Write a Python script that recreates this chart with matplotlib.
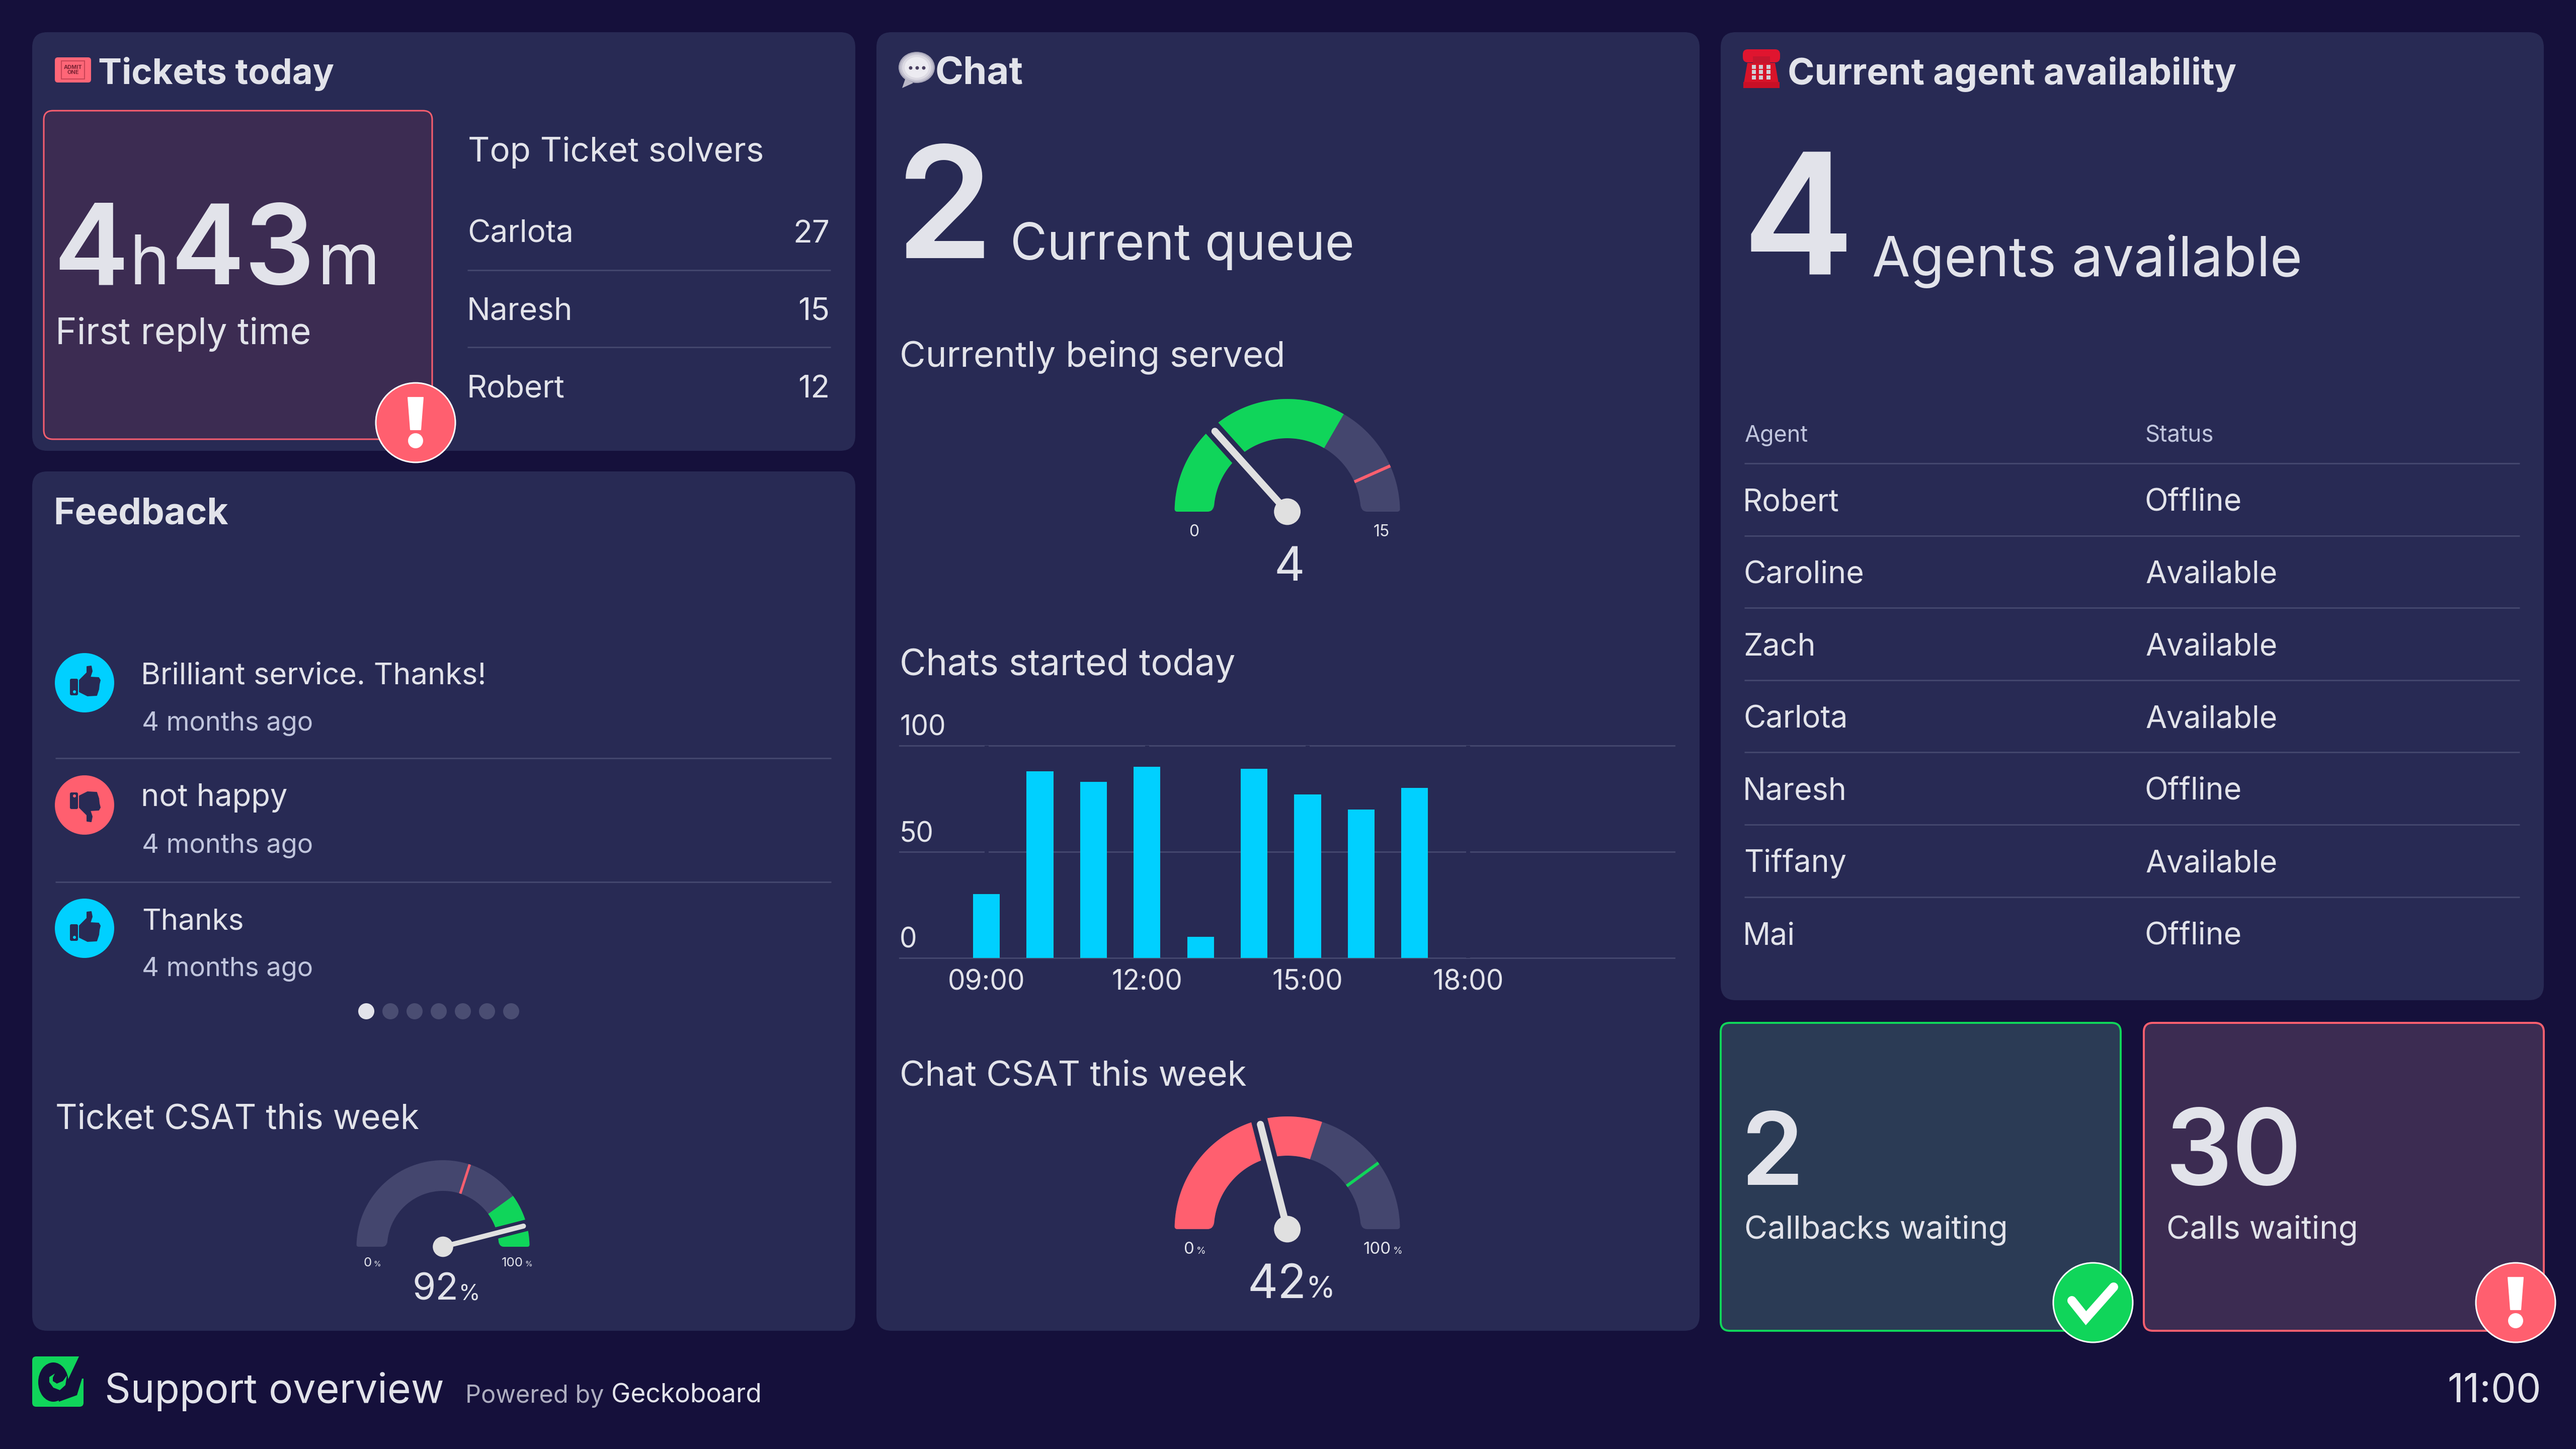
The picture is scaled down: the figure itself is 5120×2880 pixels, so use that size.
import math
import matplotlib
matplotlib.use("Agg")
import matplotlib.pyplot as plt
from matplotlib.font_manager import FontProperties
from matplotlib.patches import Circle, Ellipse, FancyBboxPatch, PathPatch, Polygon, Rectangle
from matplotlib.path import Path
from matplotlib.textpath import TextPath

# data
solver_names = ["Carlota", "Naresh", "Robert"]
solver_counts = [27, 15, 12]
comments = ["Brilliant service. Thanks!", "not happy", "Thanks"]
comment_good = [True, False, True]
comment_age = "4 months ago"
hours = [9, 10, 11, 12, 13, 14, 15, 16, 17]
chats = [30, 88, 83, 90, 10, 89, 77, 70, 80]
hour_ticks = [9, 12, 15, 18]
hour_labels = ["09:00", "12:00", "15:00", "18:00"]
count_ticks = [0, 50, 100]
agents = ["Robert", "Caroline", "Zach", "Carlota", "Naresh", "Tiffany", "Mai"]
statuses = ["Offline", "Available", "Available", "Available", "Offline", "Available", "Offline"]

# gauges : value, target, max
served = [4, 13, 15]
chat_csat = [42, 80, 100]
ticket_csat = [92, 60, 100]

# colours
BG = "#15103b"
PANEL = "#282a54"
TXT = "#e2e3ea"
SUB = "#c0c5dd"
LINE = "#43466d"
TRACK = "#44466e"
RED = "#ff5f6f"
GREEN = "#10d55a"
CYAN = "#00d0ff"
HUB = "#e0e0e0"
FONT = "Inter"
PX = 72 / 400  # font size in pt for 1 px

fig = plt.figure(figsize=(12.8, 7.2), dpi=400, facecolor=BG)
ax = fig.add_axes([0, 0, 1, 1])
ax.set_xlim(0, 5120)
ax.set_ylim(2880, 0)
ax.axis("off")


def t(x, y, s, em=None, w=None, color=TXT, weight="normal", ha="left", zorder=5):
    fp = FontProperties(family=FONT, weight=weight)
    ext = TextPath((0, 0), s, size=100, prop=fp).get_extents()
    if w is not None:
        em = 100 * w / ext.width
    # x is where the ink starts, not the side bearing
    if ha == "left":
        x -= ext.x0 * em / 100
        if weight == "normal":
            x += 2
    ax.text(x, y, s, fontproperties=fp, fontsize=em * PX, color=color, ha=ha, va="baseline", zorder=zorder)


def box(x0, y0, x1, y1, face, edge="none", lw=0, r=30):
    ax.add_patch(FancyBboxPatch((x0 + r, y0 + r), x1 - x0 - 2 * r, y1 - y0 - 2 * r,
                                boxstyle=f"round,pad={r},rounding_size={r}",
                                fc=face, ec=edge, lw=lw * PX, zorder=1))


def hline(x0, x1, y, color=LINE, lw=3):
    ax.plot([x0, x1], [y, y], color=color, lw=lw * PX, solid_capstyle="butt", zorder=2)


def badge_warn(cx, cy):
    ax.add_patch(Circle((cx, cy), 79, fc=RED, ec="white", lw=3 * PX, zorder=6))
    ax.add_patch(Polygon([(cx - 15, cy - 50), (cx + 15, cy - 50), (cx + 10, cy + 14), (cx - 10, cy + 14)],
                         fc="white", ec="white", lw=2 * PX, joinstyle="round", zorder=7))
    ax.add_patch(Circle((cx, cy + 36), 15, fc="white", ec="none", zorder=7))


def badge_ok(cx, cy):
    ax.add_patch(Circle((cx, cy), 79, fc=GREEN, ec="white", lw=3 * PX, zorder=6))
    ax.plot([cx - 42, cx - 14, cx + 41], [cy - 4, cy + 31, cy - 31], color="white", lw=18 * PX,
            solid_capstyle="round", solid_joinstyle="miter", zorder=7)


def gauge(cx, cy, ro, ri, vals, fill, mark, needle_w, gap_w, tick_w):
    val, target, top = vals
    c1, c2 = ro * 0.025, ri * 0.09
    verts, codes = [], []
    n = 160
    for i in range(n + 1):
        a = math.pi * (1 - i / n)
        y = cy - ro * math.sin(a)
        if i == n:
            y = cy - c1
        verts.append((cx + ro * math.cos(a), y if i else cy - c1))
        codes.append(Path.LINETO if i else Path.MOVETO)
    verts += [(cx + ro, cy), (cx + ro - c1, cy), (cx + ri + c2, cy), (cx + ri + 1, cy), (cx + ri, cy - c2)]
    codes += [Path.CURVE3, Path.CURVE3, Path.LINETO, Path.CURVE3, Path.CURVE3]
    for i in range(1, n):
        a = math.pi * i / n
        verts.append((cx + ri * math.cos(a), cy - ri * math.sin(a)))
        codes.append(Path.LINETO)
    verts += [(cx - ri, cy - c2), (cx - ri - 1, cy), (cx - ri - c2, cy), (cx - ro + c1, cy), (cx - ro, cy), (cx - ro, cy - c1)]
    codes += [Path.LINETO, Path.CURVE3, Path.CURVE3, Path.LINETO, Path.CURVE3, Path.CURVE3]
    shape = Path(verts, codes)
    ax.add_patch(PathPatch(shape, fc=TRACK, ec="none", zorder=2))

    # coloured part of the ring, the same shape clipped to a sector
    colour, f0, f1 = fill
    f0 = -0.02 if f0 == 0 else f0
    f1 = 1.02 if f1 == 1 else f1
    sector = [(cx, cy)]
    for i in range(61):
        f = f0 + (f1 - f0) * i / 60
        a = math.pi * (1 - f)
        sector.append((cx + ro * 1.2 * math.cos(a), cy - ro * 1.2 * math.sin(a)))
    clip = Polygon(sector, closed=True, transform=ax.transData)
    part = PathPatch(shape, fc=colour, ec="none", zorder=3)
    ax.add_patch(part)
    part.set_clip_path(clip)

    # target mark
    a = math.pi * (1 - target / top)
    ax.plot([cx + ri * math.cos(a), cx + ro * math.cos(a)], [cy - ri * math.sin(a), cy - ro * math.sin(a)],
            color=mark, lw=tick_w * PX, solid_capstyle="butt", zorder=4)

    # needle with a gap in the ring around it
    a = math.pi * (1 - val / top)
    ax.plot([cx, cx + (ro + 6) * math.cos(a)], [cy, cy - (ro + 6) * math.sin(a)], color=PANEL,
            lw=gap_w * PX, solid_capstyle="butt", zorder=4.5)
    nl = ro * 0.96
    ax.plot([cx, cx + nl * math.cos(a)], [cy, cy - nl * math.sin(a)], color=HUB,
            lw=needle_w * PX, solid_capstyle="round", zorder=5)
    ax.add_patch(Circle((cx, cy), ro * 0.118, fc=HUB, ec="none", zorder=5))


# panels
box(64, 64, 1700, 896, PANEL)
box(64, 937, 1700, 2645, PANEL)
box(1742, 64, 3378, 2645, PANEL)
box(3420, 64, 5056, 1988, PANEL)
box(87, 220, 859, 873, "#3c2c52", RED, 3, r=18)
box(3420, 2033, 4215, 2645, "#2b3b55", GREEN, 4, r=18)
box(4261, 2033, 5056, 2645, "#3c2c52", RED, 4, r=18)

# tickets
ax.add_patch(FancyBboxPatch((115, 120), 60, 38, boxstyle="round,pad=6,rounding_size=6", fc="#ff6677", ec="none", zorder=3))
ax.add_patch(Rectangle((122, 121), 46, 36, fc="none", ec="#c94456", lw=2 * PX, zorder=4))
ax.text(145, 139, "ADMIT\nONE", fontsize=11 * PX, color="#7a2233", ha="center", va="center", family=FONT,
        weight="bold", linespacing=1.0, zorder=5)
t(198, 167, "Tickets today", w=466, weight="bold")
t(118, 565, "4", em=225, weight="semibold")
t(266, 565, "h", em=135)
t(351, 565, "43", w=264, weight="semibold")
t(640, 565, "m", w=103)
t(114, 684, "First reply time", w=499)
badge_warn(826, 840)
t(931, 321, "Top Ticket solvers", w=582)
solver_y = [482, 635, 790]
for name, n, y in zip(solver_names, solver_counts, solver_y):
    t(931, y, name, em=62)
    t(1649, y, str(n), em=62, ha="right")
hline(929, 1651, 537)
hline(929, 1651, 690)

# feedback
t(111, 1042, "Feedback", w=343, weight="bold")
row_y = [1357, 1600, 1845]
row_w = [676, 285, 197]
hand = [(-10, -5), (5, -20), (5, -32), (13, -33), (15, -23), (11, -11), (28, -10), (31, -5), (29, 3),
        (28, 13), (24, 25), (6, 26), (-10, 18)]
for y, text, good, tw in zip(row_y, comments, comment_good, row_w):
    col = CYAN if good else RED
    sign = 1 if good else -1
    ax.add_patch(Circle((168, y), 59, fc=col, ec="none", zorder=3))
    ax.add_patch(Polygon([(168 + hx, y + sign * hy) for hx, hy in hand], fc=PANEL, ec=PANEL, lw=2 * PX,
                         joinstyle="round", zorder=4))
    ax.add_patch(FancyBboxPatch((139, y - 8 if good else y - 25), 16, 33, boxstyle="round,pad=0,rounding_size=3",
                                fc=PANEL, ec="none", zorder=4))
    ax.add_patch(Circle((148, y + sign * 18), 3, fc=col, ec="none", zorder=5))
    t(283, y + 2, text, w=tw)
    t(283, y + 95, comment_age, w=335, color=SUB)
hline(110, 1652, 1507)
hline(110, 1652, 1753)
for i in range(7):
    ax.add_patch(Circle((728 + 48 * i, 2010), 16, fc=TXT if i == 0 else "#4a4d72", ec="none", zorder=3))

t(111, 2244, "Ticket CSAT this week", w=719)
gauge(880.5, 2478, 172, 111, ticket_csat, (GREEN, 0.8, 1), RED, 10, 23, 5)
t(722, 2517, "0", em=26)
t(742, 2517, "%", em=15)
t(996, 2517, "100", em=26)
t(1043, 2517, "%", em=15)
t(822, 2584, "92", w=82)
t(914, 2584, "%", w=33)

# chat
for r, c in zip([36, 33, 29, 24], ["#a9a7ba", "#c6c4d2", "#dcdae3", "#ecebf1"]):
    ax.add_patch(Ellipse((1822, 134), 2 * r, 2 * r * 0.86, fc=c, ec="none", zorder=3))
ax.add_patch(Polygon([(1800, 155), (1793, 175), (1815, 165)], fc="#b9b7c6", ec="none", zorder=3))
for dx in [1810, 1823, 1836]:
    ax.add_patch(Circle((dx, 135), 3.5, fc="#4a4060", ec="none", zorder=4))
t(1862, 168, "Chat", w=170, weight="bold")
t(1800, 513, "2", em=310, weight="semibold")
t(2012, 516, "Current queue", w=673)
t(1790, 728, "Currently being served", w=757)
gauge(2558.6, 1017, 224, 146, served, (GREEN, 0, 0.667), RED, 14, 33, 6)
t(2373.5, 1066, "0", em=32, ha="center")
t(2746, 1066, "15", em=32, ha="center")
t(2563, 1154, str(served[0]), em=94, ha="center")

t(1790, 1342, "Chats started today", w=662)

# bar chart through its own axes
x_left, x_right, y_top, y_bot = 1788, 3328, 1482, 1904
bar_ax = fig.add_axes([x_left / 5120, 1 - y_bot / 2880, (x_right - x_left) / 5120, (y_bot - y_top) / 2880])
bar_ax.patch.set_alpha(0)
bar_ax.set_xlim(9 - 172.5 / 106.4, 9 + (3328 - 1960.5) / 106.4)
bar_ax.set_ylim(0, 100)
bar_ax.bar(hours, chats, width=0.5, color=CYAN, zorder=3)
bar_ax.set_yticks(count_ticks)
bar_ax.set_yticklabels([])
bar_ax.grid(axis="y", color=LINE, lw=3 * PX, zorder=1)
bar_ax.set_axisbelow(True)
for gl in bar_ax.get_ygridlines():
    gl.set_clip_on(False)
for h in hour_ticks:
    bar_ax.axvline(h, color=PANEL, lw=8 * PX, zorder=2)
bar_ax.set_xticks(hour_ticks)
bar_ax.set_xticklabels(hour_labels, fontfamily=FONT, fontsize=55 * PX, color=TXT, va="baseline")
bar_ax.tick_params(axis="x", length=0, pad=63 * PX)
bar_ax.tick_params(axis="y", length=0)
for spine in bar_ax.spines.values():
    spine.set_visible(False)
for v in count_ticks:
    bar_ax.annotate(str(v), xy=(0, v), xycoords=("axes fraction", "data"), xytext=(0, 20 * PX),
                    textcoords="offset points", fontfamily=FONT, fontsize=55 * PX, color=TXT, ha="left", va="baseline")

t(1790, 2158, "Chat CSAT this week", w=685)
gauge(2558.6, 2443, 224, 146, chat_csat, (RED, 0, 0.6), GREEN, 14, 33, 6)
t(2353, 2492, "0", em=33)
t(2378, 2492, "%", em=19)
t(2709, 2492, "100", em=33)
t(2769, 2492, "%", em=19)
t(2483, 2580, "42", w=105)
t(2600, 2580, "%", w=45)

# agents
ax.add_patch(FancyBboxPatch((3470, 104), 62, 14, boxstyle="round,pad=6,rounding_size=10", fc="#e0152f", ec="none", zorder=3))
ax.add_patch(Rectangle((3484, 112), 34, 14, fc="#c5162e", ec="none", zorder=4))
ax.add_patch(Polygon([(3473, 125), (3528, 125), (3535, 165), (3466, 165)], fc="#d81329", ec="none", zorder=3))
ax.add_patch(Rectangle((3465, 163), 72, 12, fc="#c90f26", ec="none", zorder=3))
for ky in [133, 143, 154]:
    for kx in [3486, 3500, 3515]:
        ax.add_patch(Rectangle((kx - 4, ky - 4), 8, 8, fc="#cfcfd6", ec="none", zorder=4))
t(3556, 168, "Current agent availability", w=888, weight="bold")
t(3480, 545, "4", em=335, weight="semibold")
t(3722, 549, "Agents available", w=846)
t(3467, 878, "Agent", em=45, color=SUB)
t(4264, 878, "Status", em=46, color=SUB)
line_y = [921, 1065, 1208, 1352, 1495, 1639, 1783]
for i, (a, s) in enumerate(zip(agents, statuses)):
    hline(3467, 5008, line_y[i])
    t(3467, 1015 + 143.7 * i, a, em=61)
    t(4264, 1015 + 143.7 * i, s, em=61)

# callbacks and calls
t(3473, 2355, "2", em=200, weight="semibold")
t(3469, 2461, "Callbacks waiting", w=515)
badge_ok(4160, 2589)
t(4315, 2355, "30", w=250, weight="semibold")
t(4308, 2461, "Calls waiting", w=372)
badge_warn(5000, 2589)

# footer
ax.add_patch(FancyBboxPatch((72, 2704), 86, 84, boxstyle="round,pad=8,rounding_size=8", fc=GREEN, ec="none", zorder=2))
ax.add_patch(Ellipse((106, 2747), 60, 78, fc=BG, ec="none", zorder=3))
ax.add_patch(Polygon([(158, 2694), (168, 2694), (168, 2740), (163, 2740), (153, 2773), (117, 2786), (112, 2757), (130, 2753)],
                     fc=BG, ec="none", zorder=3))
ax.add_patch(Polygon([(109, 2730), (98, 2737), (98, 2747), (106, 2758), (119, 2763), (130, 2753), (133, 2734), (125, 2745),
                      (113, 2750), (105, 2745), (105, 2738)], fc=GREEN, ec="none", zorder=4))
t(211, 2788, "Support overview", w=667)
t(927, 2788, "Powered by", w=270, color="#aeaec0")
t(1216, 2788, "Geckoboard", w=292)
t(5051, 2787, "11:00", em=79, ha="right")

fig.savefig("out.png", dpi=400, facecolor=BG)
